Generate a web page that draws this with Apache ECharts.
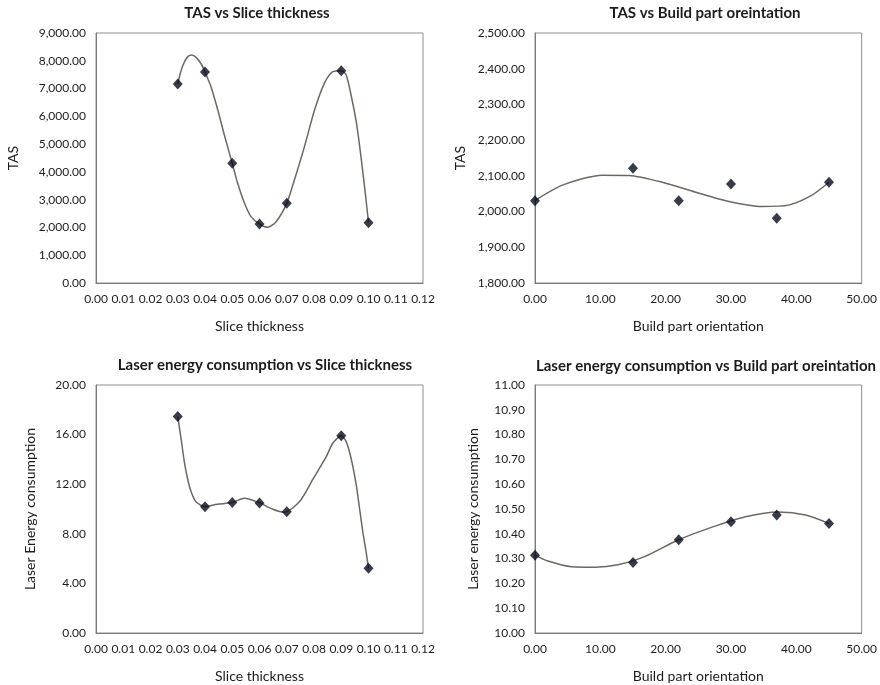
<!DOCTYPE html>
<html>
<head>
<meta charset="utf-8">
<title>TAS and laser energy consumption</title>
<script src="https://cdn.jsdelivr.net/npm/echarts@6/dist/echarts.min.js"></script>
<style>
  html, body { margin: 0; padding: 0; background: #fff; }
  #chart { width: 880px; height: 685px; }
</style>
</head>
<body>
<div id="chart"></div>
<script>
// Measured points
const sliceThickness = [0.03, 0.04, 0.05, 0.06, 0.07, 0.09, 0.10];
const tasBySlice = [7164, 7596, 4308, 2124, 2868, 7644, 2172];
const energyBySlice = [17.45, 10.19, 10.52, 10.49, 9.78, 15.91, 5.22];

const orientation = [0, 15, 22, 30, 37, 45];
const tasByOrientation = [2030, 2121, 2030, 2077, 1981, 2082];
const energyByOrientation = [10.314, 10.284, 10.376, 10.449, 10.476, 10.442];

// Polynomial trend lines, traced as [x, y] pairs
const tasSliceTrend = [
  [0.0300, 7164], [0.0312, 7644], [0.0325, 7968], [0.0337, 8148], [0.0351, 8208],
  [0.0367, 8124], [0.0386, 7884], [0.0400, 7596], [0.0422, 7068], [0.0447, 6228],
  [0.0471, 5328], [0.0500, 4308], [0.0520, 3588], [0.0545, 2868], [0.0569, 2388],
  [0.0600, 2124], [0.0630, 2004], [0.0661, 2208], [0.0700, 2868], [0.0728, 3708],
  [0.0765, 4908], [0.0802, 6228], [0.0838, 7188], [0.0869, 7608], [0.0900, 7644],
  [0.0918, 7488], [0.0936, 6768], [0.0955, 5808], [0.0967, 4968], [0.0979, 4008],
  [0.0989, 3168], [0.1000, 2172]
];
const tasOrientationTrend = [
  [0, 2031], [4.2, 2074], [10.3, 2102], [14.4, 2101], [19.5, 2082], [24.6, 2054],
  [29.7, 2028], [34.8, 2014], [38.8, 2018], [42.4, 2046], [45, 2082]
];
const energySliceTrend = [
  [0.0300, 17.45], [0.0312, 15.70], [0.0324, 13.82], [0.0337, 12.34], [0.0349, 11.40],
  [0.0367, 10.59], [0.0400, 10.19], [0.0445, 10.38], [0.0500, 10.52], [0.0545, 10.86],
  [0.0600, 10.49], [0.0649, 9.98], [0.0691, 9.73], [0.0747, 10.60], [0.0796, 12.40],
  [0.0845, 14.22], [0.0869, 15.30], [0.0900, 15.91], [0.0918, 15.43], [0.0936, 14.09],
  [0.0955, 11.94], [0.0967, 10.06], [0.0979, 8.17], [0.0991, 6.56], [0.1000, 5.22]
];
const energyOrientationTrend = [
  [0, 10.314], [2, 10.290], [5.6, 10.267], [9.2, 10.265], [12.7, 10.275], [16.8, 10.308],
  [21.9, 10.375], [27, 10.426], [32.2, 10.469], [37.3, 10.488], [41.4, 10.476], [45, 10.442]
];

const titles = [
  'TAS vs Slice thickness',
  'TAS vs Build part oreintation',
  'Laser energy consumption vs Slice thickness',
  'Laser energy consumption vs Build part oreintation'
];
const xNames = ['Slice thickness', 'Build part orientation', 'Slice thickness', 'Build part orientation'];
const yNames = ['TAS', 'TAS', 'Laser Energy consumption', 'Laser energy consumption'];

const FONT = 'Lato, "Open Sans", sans-serif';
const TEXT = '#1c1c1c';

const grids = [
  { left: 96, top: 33, width: 327, height: 250 },
  { left: 535, top: 33, width: 327, height: 250 },
  { left: 96, top: 385, width: 327, height: 248 },
  { left: 535, top: 385, width: 327, height: 248 }
].map(g => Object.assign({ show: true, borderColor: '#8f8f8f', borderWidth: 1, backgroundColor: '#fff' }, g));

// title centres
const titlePos = [[257, 5.5], [705, 5.5], [265, 357.5], [706, 358.5]];

function fmtThousands(v) {
  return Number(v).toLocaleString('en-US', { minimumFractionDigits: 2, maximumFractionDigits: 2 });
}
function fmt2(v) { return Number(v).toFixed(2); }

const xRanges = [
  { min: 0, max: 0.12, interval: 0.01 },
  { min: 0, max: 50, interval: 10 },
  { min: 0, max: 0.12, interval: 0.01 },
  { min: 0, max: 50, interval: 10 }
];
const yRanges = [
  { min: 0, max: 9000, interval: 1000, fmt: fmtThousands, gap: 76 },
  { min: 1800, max: 2500, interval: 100, fmt: fmtThousands, gap: 68 },
  { min: 0, max: 20, interval: 4, fmt: fmt2, gap: 59 },
  { min: 10, max: 11, interval: 0.1, fmt: fmt2, gap: 55 }
];

const xAxes = xRanges.map((r, i) => ({
  type: 'value', gridIndex: i, min: r.min, max: r.max, interval: r.interval,
  name: xNames[i], nameLocation: 'middle', nameGap: 36,
  nameTextStyle: { fontFamily: FONT, fontSize: 14, color: TEXT },
  axisLine: { show: true, lineStyle: { color: '#7a7a7a', width: 1 } },
  axisTick: { show: false },
  splitLine: { show: false },
  axisLabel: { fontFamily: FONT, fontSize: 12, color: TEXT, margin: 10, formatter: fmt2, hideOverlap: false }
}));

const yAxes = yRanges.map((r, i) => ({
  type: 'value', gridIndex: i, min: r.min, max: r.max, interval: r.interval,
  name: yNames[i], nameLocation: 'middle', nameGap: r.gap,
  nameTextStyle: { fontFamily: FONT, fontSize: 14, color: TEXT },
  axisLine: { show: true, lineStyle: { color: '#7a7a7a', width: 1 } },
  axisTick: { show: false },
  splitLine: { show: false },
  axisLabel: { fontFamily: FONT, fontSize: 12, color: TEXT, margin: 10, formatter: r.fmt }
}));

const trends = [tasSliceTrend, tasOrientationTrend, energySliceTrend, energyOrientationTrend];
const points = [
  sliceThickness.map((x, k) => [x, tasBySlice[k]]),
  orientation.map((x, k) => [x, tasByOrientation[k]]),
  sliceThickness.map((x, k) => [x, energyBySlice[k]]),
  orientation.map((x, k) => [x, energyByOrientation[k]])
];

const series = [];
for (let i = 0; i < 4; i++) {
  series.push({
    type: 'line', xAxisIndex: i, yAxisIndex: i, data: trends[i],
    smooth: 0.25, showSymbol: false, silent: true, z: 2,
    lineStyle: { color: '#6e6763', width: 1.5 }
  });
  series.push({
    type: 'scatter', xAxisIndex: i, yAxisIndex: i, data: points[i],
    symbol: 'diamond', symbolSize: [10, 11], z: 3,
    itemStyle: { color: '#060b1c' }
  });
}

const chart = echarts.init(document.getElementById('chart'), null, { renderer: 'canvas' });
chart.setOption({
  backgroundColor: '#fff',
  animation: false,
  title: titles.map((t, i) => ({
    text: t, left: titlePos[i][0], top: titlePos[i][1], textAlign: 'center', padding: 0,
    textStyle: { fontFamily: FONT, fontSize: 15, fontWeight: 'bold', color: TEXT }
  })),
  grid: grids,
  xAxis: xAxes,
  yAxis: yAxes,
  series: series
});
</script>
</body>
</html>
